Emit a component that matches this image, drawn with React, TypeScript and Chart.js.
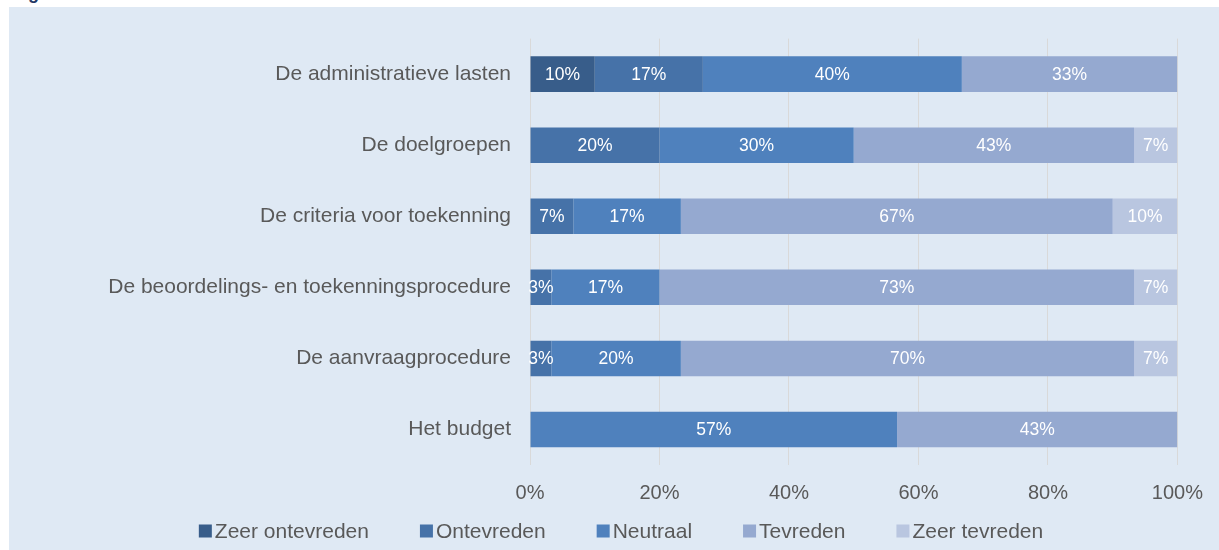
import React, { useEffect, useRef } from "react";
import { Chart, registerables } from "chart.js";

Chart.register(...registerables);

const categories = [
  "De administratieve lasten",
  "De doelgroepen",
  "De criteria voor toekenning",
  "De beoordelings- en toekenningsprocedure",
  "De aanvraagprocedure",
  "Het budget",
];
const seriesNames = ["Zeer ontevreden", "Ontevreden", "Neutraal", "Tevreden", "Zeer tevreden"];
const zeerOntevreden = [10, 0, 0, 0, 0, 0];
const ontevreden = [16.7, 20, 6.7, 3.3, 3.3, 0];
const neutraal = [40, 30, 16.6, 16.7, 20, 56.7];
const tevreden = [33.3, 43.3, 66.7, 73.3, 70, 43.3];
const zeerTevreden = [0, 6.7, 10, 6.7, 6.7, 0];
const seriesColors = ["#385D8A", "#4672A8", "#4F81BD", "#95A9D0", "#B9C6E0"];
const xTickValues = [0, 20, 40, 60, 80, 100];

const FONT = "'Liberation Sans', Arial, sans-serif";
const W = 1210;
const H = 543;

const dataLabels = {
  id: "dataLabels",
  afterDatasetsDraw(chart: any) {
    const ctx = chart.ctx;
    ctx.save();
    ctx.font = `17.5px ${FONT}`;
    ctx.fillStyle = "#FFFFFF";
    ctx.textAlign = "center";
    ctx.textBaseline = "middle";
    chart.data.datasets.forEach((ds: any, di: number) => {
      const meta = chart.getDatasetMeta(di);
      meta.data.forEach((el: any, i: number) => {
        const v = ds.data[i];
        if (!v) return;
        const p = el.getCenterPoint();
        ctx.fillText(Math.round(v) + "%", p.x, p.y + 1);
      });
    });
    ctx.restore();
  },
};

const customLegend = {
  id: "customLegend",
  afterDraw(chart: any) {
    const ctx = chart.ctx;
    ctx.save();
    ctx.font = `21px ${FONT}`;
    ctx.textBaseline = "middle";
    ctx.textAlign = "left";
    const box = 13;
    const gapText = 3;
    const gapItem = 51;
    const items = chart.data.datasets.map((ds: any) => ({
      label: ds.label,
      color: ds.backgroundColor,
      w: ctx.measureText(ds.label).width,
    }));
    const total =
      items.reduce((s: number, it: any) => s + box + gapText + it.w, 0) + gapItem * (items.length - 1);
    let x = 612 - total / 2;
    const cy = 524;
    items.forEach((it: any) => {
      ctx.fillStyle = it.color;
      ctx.fillRect(x, cy - box / 2, box, box);
      ctx.fillStyle = "#595959";
      ctx.fillText(it.label, x + box + gapText, cy + 1);
      x += box + gapText + it.w + gapItem;
    });
    ctx.restore();
  },
};

export default function App() {
  const ref = useRef<HTMLCanvasElement | null>(null);

  useEffect(() => {
    if (!ref.current) return;
    const values = [zeerOntevreden, ontevreden, neutraal, tevreden, zeerTevreden];
    const chart = new Chart(ref.current, {
      type: "bar",
      data: {
        labels: categories,
        datasets: seriesNames.map((name, i) => ({
          label: name,
          data: values[i],
          backgroundColor: seriesColors[i],
          borderWidth: 0,
          categoryPercentage: 1,
          barPercentage: 0.5,
        })),
      },
      options: {
        indexAxis: "y",
        responsive: false,
        animation: false,
        devicePixelRatio: 1,
        layout: { padding: { top: 30, bottom: 29, left: 0, right: 36 } },
        plugins: {
          legend: { display: false },
          tooltip: { enabled: false },
          title: { display: false },
        },
        scales: {
          x: {
            stacked: true,
            min: 0,
            max: 100,
            afterBuildTicks: (scale: any) => {
              scale.ticks = xTickValues.map((v) => ({ value: v }));
            },
            ticks: {
              callback: (v: any) => v + "%",
              font: { family: FONT, size: 20 },
              color: "#595959",
              padding: 16,
              maxRotation: 0,
            },
            grid: { color: "#D9D9D9", lineWidth: 1, drawTicks: false },
            border: { display: false },
          },
          y: {
            stacked: true,
            afterFit: (scale: any) => {
              scale.width = 521;
            },
            ticks: {
              font: { family: FONT, size: 21 },
              color: "#595959",
              padding: 19,
            },
            grid: { display: false, drawTicks: false },
            border: { display: false },
          },
        },
      },
      plugins: [dataLabels, customLegend],
    });
    return () => chart.destroy();
  }, []);

  return (
    <>
      <div
        style={{
          position: "absolute",
          left: 12,
          top: -16,
          fontFamily: FONT,
          fontWeight: "bold",
          fontSize: 18,
          lineHeight: "18px",
          color: "#1F3864",
          whiteSpace: "nowrap",
        }}
      >
        Figuur
      </div>
      <div
        style={{
          position: "absolute",
          left: 9,
          top: 7,
          width: W,
          height: H,
          background: "#DFE9F4",
        }}
      >
        <canvas ref={ref} width={W} height={H} style={{ display: "block", width: W, height: H }} />
      </div>
    </>
  );
}
